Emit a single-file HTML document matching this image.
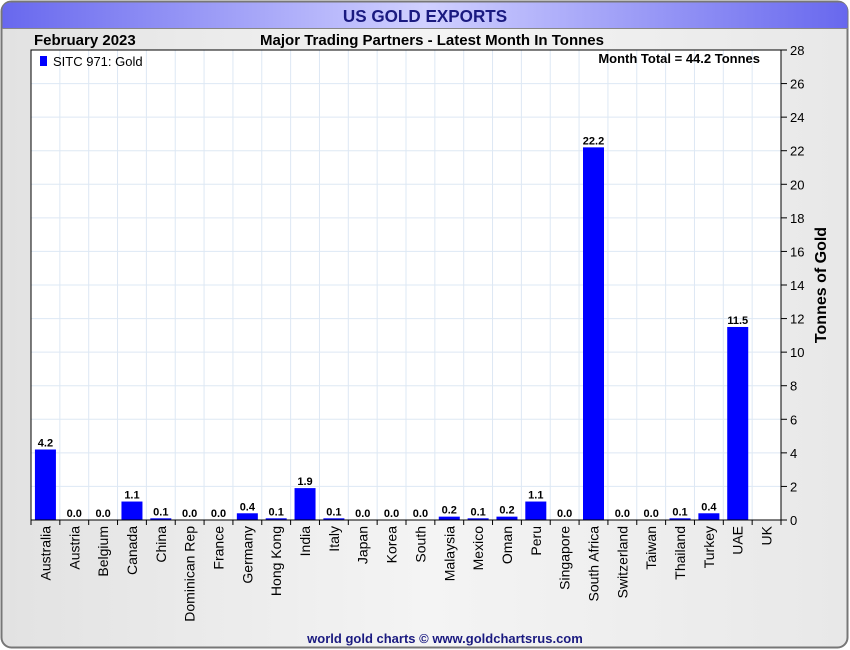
<!DOCTYPE html>
<html><head><meta charset="utf-8"><style>
html,body{margin:0;padding:0;width:850px;height:650px;overflow:hidden;background:#fff;font-family:"Liberation Sans",Arial,sans-serif}
</style></head><body>
<svg id="chart" width="850" height="650" xmlns="http://www.w3.org/2000/svg">
<defs>
<linearGradient id="tg" x1="0" x2="1" y1="0" y2="0"><stop offset="0" stop-color="#6868ee"/><stop offset="0.5" stop-color="#d0d0ff"/><stop offset="1" stop-color="#6868ee"/></linearGradient>
<linearGradient id="bg" x1="0" x2="1" y1="0" y2="0"><stop offset="0" stop-color="#e2e2e2"/><stop offset="0.5" stop-color="#f4f4f4"/><stop offset="1" stop-color="#e8e8e8"/></linearGradient>
</defs>
<rect x="1.5" y="1.5" width="846" height="646" rx="10" fill="url(#bg)" stroke="#777" stroke-width="2"/>
<path d="M2.5,28 L2.5,11 Q2.5,2.5 11,2.5 L839,2.5 Q847.5,2.5 847.5,11 L847.5,28 Z" fill="url(#tg)"/>
<line x1="2" y1="28.5" x2="848" y2="28.5" stroke="#888"/>
<text x="425" y="22" text-anchor="middle" font-size="18" font-weight="bold" fill="#1a1a80" transform="translate(425,0) scale(0.95,1) translate(-425,0)">US GOLD EXPORTS</text>
<text x="34" y="45" font-size="15" font-weight="bold" fill="#000">February 2023</text>
<text x="432" y="45" text-anchor="middle" font-size="15" font-weight="bold" fill="#000">Major Trading Partners - Latest Month In Tonnes</text>
<rect x="31" y="50" width="750" height="470" fill="#fff"/>
<g id="grid"></g>
<g id="bars"></g>
<g id="labels"></g>
<g id="xticks"></g>
<g id="yticks"></g>
<rect x="31" y="50" width="750" height="470" fill="none" stroke="#000" stroke-width="1"/>
<rect x="40" y="56" width="7" height="10" fill="#0000ff"/>
<text x="53" y="66" font-size="13" fill="#000">SITC 971: Gold</text>
<text x="760" y="63" text-anchor="end" font-size="13" fill="#000" font-weight="bold">Month Total = 44.2 Tonnes</text>
<text transform="translate(826,285) rotate(-90)" text-anchor="middle" font-size="16" font-weight="bold" fill="#000">Tonnes of Gold</text>
<text x="445" y="643" text-anchor="middle" font-size="13" font-weight="bold" fill="#1a1a80">world gold charts © www.goldchartsrus.com</text>
</svg>
<script>
const categories=["Australia","Austria","Belgium","Canada","China","Dominican Rep","France","Germany","Hong Kong","India","Italy","Japan","Korea","South","Malaysia","Mexico","Oman","Peru","Singapore","South Africa","Switzerland","Taiwan","Thailand","Turkey","UAE","UK"];
const values=[4.2,0.0,0.0,1.1,0.1,0.0,0.0,0.4,0.1,1.9,0.1,0.0,0.0,0.0,0.2,0.1,0.2,1.1,0.0,22.2,0.0,0.0,0.1,0.4,11.5,null];
const yTicks=[0,2,4,6,8,10,12,14,16,18,20,22,24,26,28];
const NS="http://www.w3.org/2000/svg";
const L=31,R=781,T=50,B=520,YMAX=28;
const n=categories.length,step=(R-L)/n;
const y=v=>B-(v/YMAX)*(B-T);
const xc=i=>L+step*(i+0.5);
function mk(tag,attrs,parent){const e=document.createElementNS(NS,tag);for(const k in attrs)e.setAttribute(k,attrs[k]);document.getElementById(parent).appendChild(e);return e;}
for(let i=1;i<n;i++){const x=L+step*i;const g=mk('line',{x1:x,x2:x,y1:T,y2:B,stroke:'#dde8f4','stroke-width':1},'grid');

}
yTicks.forEach(t=>{if(t===0||t===YMAX)return;const g=mk('line',{x1:L,x2:R,y1:y(t),y2:y(t),stroke:'#dde8f4','stroke-width':1},'grid');

});
yTicks.forEach(t=>{const l=mk('line',{x1:R,x2:R+6,y1:y(t),y2:y(t),stroke:'#000'},'yticks');


const tx=mk('text',{x:R+9,y:y(t)+5,'font-size':13,fill:'#000'},'yticks');tx.textContent=t;

});
for(let i=0;i<=n;i++){const x=L+step*i;const l=mk('line',{x1:x,x2:x,y1:B,y2:B+5,stroke:'#000'},'xticks');

}
categories.forEach((c,i)=>{const tx=mk('text',{transform:`translate(${xc(i)+5},${B+6}) rotate(-90)`,'text-anchor':'end','font-size':14,fill:'#000'},'xticks');tx.textContent=c;

});
values.forEach((v,i)=>{if(v===null)return;const bw=21;const h=B-y(v);
const r=mk('rect',{x:xc(i)-bw/2,y:y(v),width:bw,height:Math.max(h,0),fill:'#0000ff'},'bars');


const tx=mk('text',{x:xc(i),y:y(v)-3,'text-anchor':'middle','font-size':11,'font-weight':'bold',fill:'#000'},'labels');tx.textContent=v.toFixed(1);

});
</script>
</body></html>
